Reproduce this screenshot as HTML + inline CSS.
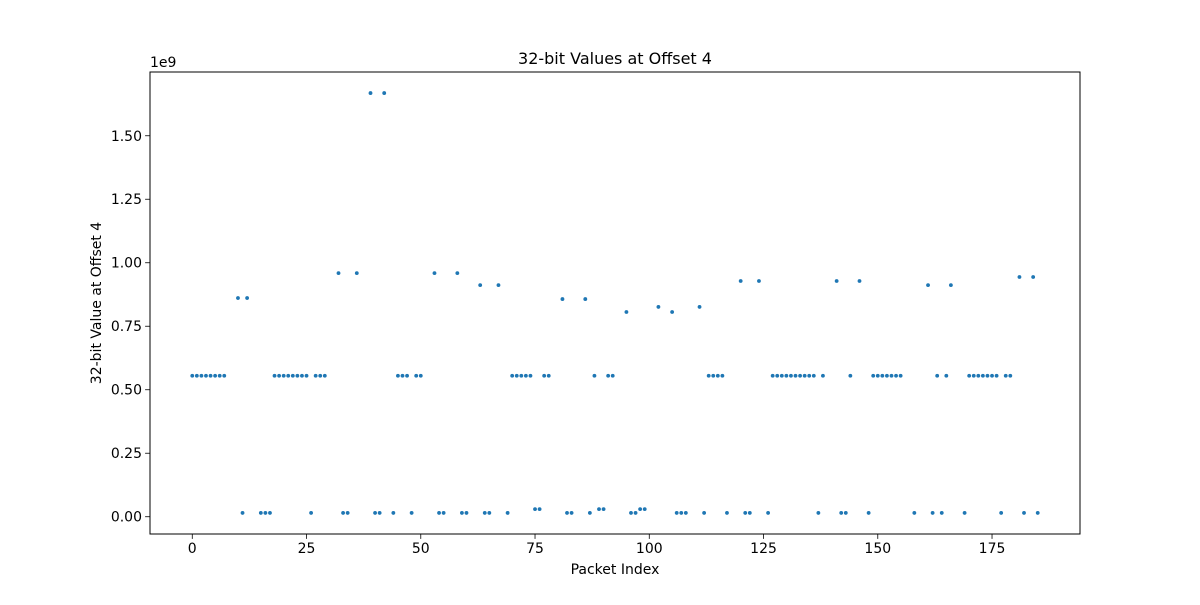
<!DOCTYPE html>
<html><head><meta charset="utf-8"><style>
body{margin:0;background:#fff}
svg text{font-family:"DejaVu Sans","Liberation Sans",sans-serif;fill:#000}
</style></head><body>
<svg id="chart" width="1200" height="600" xmlns="http://www.w3.org/2000/svg">
<rect width="1200" height="600" fill="#fff"/>
<g id="marks"></g>
<g id="axes"></g>
<text x="615" y="64" font-size="16" text-anchor="middle">32-bit Values at Offset 4</text>
<text x="615" y="574" font-size="14" text-anchor="middle">Packet Index</text>
<text x="0" y="0" font-size="14" text-anchor="middle" transform="translate(101,303) rotate(-90)">32-bit Value at Offset 4</text>
<text x="150" y="67" font-size="14">1e9</text>
</svg>
<script>
const packetIndex=[0,1,2,3,4,5,6,7,10,11,12,15,16,17,18,19,20,21,22,23,24,25,26,27,28,29,32,33,34,36,39,40,41,42,44,45,46,47,48,49,50,53,54,55,58,59,60,63,64,65,67,69,70,71,72,73,74,75,76,77,78,81,82,83,86,87,88,89,90,91,92,95,96,97,98,99,102,105,106,107,108,111,112,113,114,115,116,117,120,121,122,124,126,127,128,129,130,131,132,133,134,135,136,137,138,141,142,143,144,146,148,149,150,151,152,153,154,155,158,161,162,163,164,165,166,169,170,171,172,173,174,175,176,177,178,179,181,182,184,185];
const values=[0.555,0.555,0.555,0.555,0.555,0.555,0.555,0.555,0.861,0.015,0.861,0.015,0.015,0.015,0.555,0.555,0.555,0.555,0.555,0.555,0.555,0.555,0.015,0.555,0.555,0.555,0.959,0.015,0.015,0.959,1.668,0.015,0.015,1.668,0.015,0.555,0.555,0.555,0.015,0.555,0.555,0.959,0.015,0.015,0.959,0.015,0.015,0.912,0.015,0.015,0.912,0.015,0.555,0.555,0.555,0.555,0.555,0.030,0.030,0.555,0.555,0.857,0.015,0.015,0.857,0.015,0.555,0.030,0.030,0.555,0.555,0.806,0.015,0.015,0.030,0.030,0.826,0.806,0.015,0.015,0.015,0.826,0.015,0.555,0.555,0.555,0.555,0.015,0.928,0.015,0.015,0.928,0.015,0.555,0.555,0.555,0.555,0.555,0.555,0.555,0.555,0.555,0.555,0.015,0.555,0.928,0.015,0.015,0.555,0.928,0.015,0.555,0.555,0.555,0.555,0.555,0.555,0.555,0.015,0.912,0.015,0.555,0.015,0.555,0.912,0.015,0.555,0.555,0.555,0.555,0.555,0.555,0.555,0.015,0.555,0.555,0.944,0.015,0.944,0.015];
const xTicks=[0,25,50,75,100,125,150,175];
const yTicks=[0,0.25,0.5,0.75,1.0,1.25,1.5];
const yTickLabels=["0.00","0.25","0.50","0.75","1.00","1.25","1.50"];

const L=150,R=1080,T=72,B=534;
const xmin=-9.25,xmax=194.25,ymin=-0.068,ymax=1.751;
const sx=v=>L+(v-xmin)/(xmax-xmin)*(R-L);
const sy=v=>B-(v-ymin)/(ymax-ymin)*(B-T);
const NS="http://www.w3.org/2000/svg";
function mk(tag,attrs,parent){const e=document.createElementNS(NS,tag);for(const k in attrs)e.setAttribute(k,attrs[k]);parent.appendChild(e);return e;}
const marks=document.getElementById('marks');
packetIndex.forEach((px,i)=>{
  const c=mk('circle',{cx:sx(px),cy:sy(values[i]),r:1.9,fill:'#1f77b4'},marks);
  
  
});
const axes=document.getElementById('axes');
const frame=mk('rect',{x:L,y:T,width:R-L,height:B-T,fill:'none',stroke:'#000','stroke-width':1},axes);


xTicks.forEach(v=>{
  const x=sx(v);
  const t=mk('line',{x1:x,x2:x,y1:B,y2:B+4.9,stroke:'#000','stroke-width':0.8},axes);
  
  
  const l=mk('text',{x:x,y:B+19,'font-size':14,'text-anchor':'middle'},axes);
  l.textContent=String(v);
  
  
});
yTicks.forEach((v,i)=>{
  const y=sy(v);
  const t=mk('line',{x1:L-4.9,x2:L,y1:y,y2:y,stroke:'#000','stroke-width':0.8},axes);
  
  
  const l=mk('text',{x:L-8,y:y+5,'font-size':14,'text-anchor':'end'},axes);
  l.textContent=yTickLabels[i];
  
  
});
</script>
</body></html>
